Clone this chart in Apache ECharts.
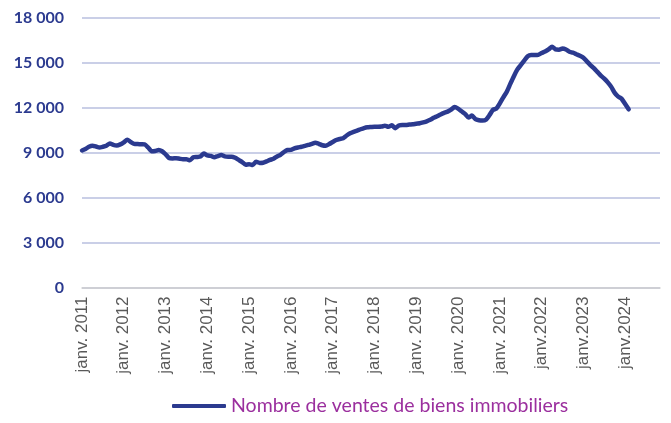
<!DOCTYPE html>
<html><head><meta charset="utf-8">
<script src="https://cdn.jsdelivr.net/npm/echarts@6/dist/echarts.min.js"></script>
<style>html,body{margin:0;padding:0;background:#fff}#c{width:671px;height:423px}</style>
</head><body><div id="c"></div>
<script>
// Tick labels (one per January)
const tickLabels = ['janv. 2011','janv. 2012','janv. 2013','janv. 2014','janv. 2015','janv. 2016','janv. 2017','janv. 2018','janv. 2019','janv. 2020','janv. 2021','janv.2022','janv.2023','janv.2024'];
const monthNames = ['janv.','févr.','mars','avr.','mai','juin','juil.','août','sept.','oct.','nov.','déc.'];
const seriesName = 'Nombre de ventes de biens immobiliers';
// Monthly values Jan 2011 - Feb 2024
const sales2011 = [9150,9250,9400,9470,9420,9350,9400,9470,9620,9520,9480,9560];
const sales2012 = [9700,9870,9720,9590,9580,9570,9560,9350,9100,9120,9180,9100];
const sales2013 = [8900,8650,8620,8640,8600,8560,8560,8500,8700,8720,8750,8950];
const sales2014 = [8820,8790,8700,8780,8850,8760,8740,8740,8660,8520,8380,8200];
const sales2015 = [8240,8180,8400,8320,8330,8420,8520,8600,8750,8860,9050,9180];
const sales2016 = [9190,9290,9350,9400,9460,9520,9600,9670,9600,9500,9470,9580];
const sales2017 = [9720,9850,9920,9970,10150,10300,10400,10480,10570,10650,10700,10720];
const sales2018 = [10740,10740,10750,10800,10740,10830,10640,10820,10860,10850,10880,10900];
const sales2019 = [10940,10970,11030,11100,11200,11330,11440,11560,11660,11745,11880,12050];
const sales2020 = [11950,11770,11600,11350,11480,11240,11170,11150,11200,11500,11860,11950];
const sales2021 = [12300,12700,13080,13600,14100,14550,14850,15150,15450,15530,15530,15540];
const sales2022 = [15660,15760,15900,16080,15900,15880,15960,15900,15750,15680,15580,15480];
const sales2023 = [15350,15100,14860,14650,14400,14150,13950,13700,13400,13000,12750,12600];
const sales2024 = [12250,11900];
const sales = [].concat(sales2011,sales2012,sales2013,sales2014,sales2015,sales2016,sales2017,sales2018,sales2019,sales2020,sales2021,sales2022,sales2023,sales2024);

const nCats = 167; // axis extends past the last data point
const categories = [];
for (let i = 0; i < nCats; i++) {
  const m = i % 12, y = Math.floor(i / 12);
  categories.push(m === 0 && y < tickLabels.length ? tickLabels[y] : monthNames[m] + ' ' + (2011 + y));
}

const chart = echarts.init(document.getElementById('c'), null, {renderer:'canvas'});
chart.setOption({
  animation:false,
  grid:{left:82,right:11,top:18,bottom:135.5,containLabel:false},
  legend:{
    bottom:2, left:167,
    itemWidth:54, itemHeight:4, itemGap:5,
    icon:'roundRect',
    textStyle:{color:'#9B2F9E',fontFamily:'Lato',fontSize:19.5},
    data:[{name:seriesName}]
  },
  xAxis:{
    type:'category', data:categories, boundaryGap:false,
    axisLine:{show:true,lineStyle:{color:'#d0d0d0',width:1.5}},
    axisTick:{show:false},
    splitLine:{show:false},
    axisLabel:{
      rotate:90, interval:11, margin:9,
      color:'#595959', fontFamily:'Liberation Sans, Arial, sans-serif', fontSize:17,
      formatter:function(v,idx){ return idx % 12 === 0 ? v : ''; }
    }
  },
  yAxis:{
    type:'value', min:0, max:18000, interval:3000,
    axisLine:{show:false}, axisTick:{show:false},
    splitLine:{lineStyle:{color:'#b9bfdf',width:1.5}},
    axisLabel:{
      margin:18, color:'#2B3A8F', fontWeight:'bold',
      fontFamily:'Lato, sans-serif', fontSize:16,
      formatter:function(v){ return String(v).replace(/\B(?=(\d{3})+(?!\d))/g,' '); }
    }
  },
  series:[{
    name:seriesName, type:'line', data:sales,
    showSymbol:false, symbol:'none', smooth:0.2,
    lineStyle:{color:'#2B3A8F',width:4.5,cap:'round',join:'round'},
    itemStyle:{color:'#2B3A8F'}
  }]
});
</script></body></html>
